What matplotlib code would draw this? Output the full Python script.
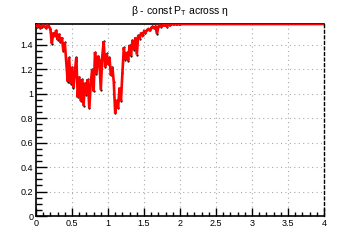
import numpy as np
import matplotlib
matplotlib.use("Agg")
import matplotlib.pyplot as plt
from matplotlib.ticker import MultipleLocator, FuncFormatter

# eta grid (bin centres, 0.02 step) from 0 to 2, then flat to 4
eta_lo = np.round(np.arange(0, 2.0001, 0.02), 3)
beta_lo = [
    1.56, 1.55, 1.56, 1.54, 1.55, 1.56, 1.55, 1.54, 1.56, 1.55, 1.53,
    1.41, 1.50, 1.48, 1.52, 1.44, 1.49, 1.42, 1.46, 1.35, 1.42,
    1.26, 1.10, 1.30, 1.08, 1.22, 1.05, 1.18, 1.30, 0.97, 1.14,
    0.94, 1.12, 0.90, 1.09, 0.99, 1.12, 0.88, 1.08, 1.20, 1.02,
    1.34, 1.16, 1.31, 1.28, 1.03, 1.30, 1.43, 1.22, 1.33, 1.24,
    1.30, 1.15, 1.22, 1.10, 0.84, 0.95, 0.88, 1.05, 0.94, 1.17,
    1.38, 1.28, 1.34, 1.27, 1.40, 1.31, 1.44, 1.36, 1.46, 1.32,
    1.48, 1.45, 1.50, 1.48, 1.51, 1.50, 1.52, 1.53, 1.52, 1.54,
    1.55, 1.54, 1.55, 1.49, 1.55, 1.56, 1.55, 1.56, 1.56, 1.56,
    1.55, 1.57, 1.56, 1.57, 1.57, 1.57, 1.57, 1.57, 1.57, 1.57,
]
eta_hi = [4.0]
beta_hi = [1.5708]

eta = list(eta_lo) + eta_hi
beta = beta_lo + beta_hi

plt.rcParams['font.family'] = ['Liberation Sans', 'DejaVu Sans']
fig = plt.figure(figsize=(3.6, 2.4), dpi=100)
ax = fig.add_axes([0.1, 0.1, 0.8, 0.8])

ax.plot(eta, beta, color='#ff0000', lw=1.9, solid_joinstyle='miter', zorder=3)
ax.plot(eta, beta, ls='none', marker='.', ms=1.2, color='black', zorder=2)

ax.set_xlim(0, 4)
ax.set_ylim(0, 1.5708)
ax.xaxis.set_major_locator(MultipleLocator(0.5))
ax.xaxis.set_minor_locator(MultipleLocator(0.1))
ax.yaxis.set_major_locator(MultipleLocator(0.2))
ax.yaxis.set_minor_locator(MultipleLocator(0.05))
fmt = FuncFormatter(lambda v, p: ('%g' % round(v, 3)))
ax.xaxis.set_major_formatter(fmt)
ax.yaxis.set_major_formatter(fmt)

ax.tick_params(which='both', direction='in', top=False, right=False,
               labelsize=6.5, color='black', width=1.0, pad=2)
ax.tick_params(axis='y', which='major', length=8)
ax.tick_params(axis='y', which='minor', length=4)
ax.tick_params(axis='x', which='major', length=6)
ax.tick_params(axis='x', which='minor', length=3)

ax.grid(True, which='major', ls=(0, (1, 3)), color='#aaaaaa', lw=0.8)
for s in ['left', 'bottom', 'top']:
    ax.spines[s].set_linewidth(1.2)
ax.spines['right'].set_linestyle((0, (2, 2)))
ax.spines['right'].set_linewidth(1.0)

fig.text(0.5, 0.955, r'β - const P$_{\mathregular{T}}$ across η',
         ha='center', va='center', fontsize=7.5)

fig.savefig('out.png', dpi=100)
